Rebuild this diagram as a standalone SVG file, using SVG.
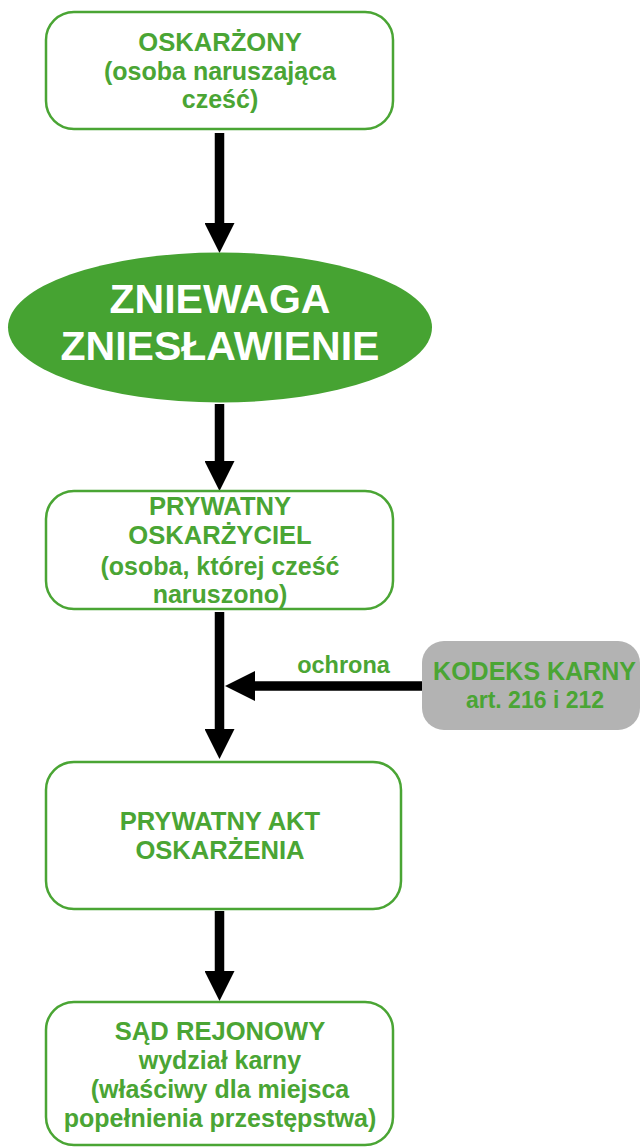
<svg xmlns="http://www.w3.org/2000/svg" width="641" height="1147" viewBox="0 0 641 1147">
<defs>
<style>
.box{fill:#ffffff;stroke:#4aa534;stroke-width:2.5}
.t{font-family:"Liberation Sans",Arial,sans-serif;font-weight:bold;fill:#4aa534;text-anchor:middle}
.h{font-size:25.6px}
.s{font-size:25px}
.w{font-family:"Liberation Sans",Arial,sans-serif;font-weight:bold;fill:#ffffff;text-anchor:middle;font-size:41px}
.c{stroke:#000000;stroke-width:9.5;fill:none}
</style>
<marker id="ah" viewBox="0 0 30 30" refX="0" refY="15" markerWidth="30" markerHeight="30" markerUnits="userSpaceOnUse" orient="auto">
<path d="M0,0 L30,15 L0,30 z" fill="#000000"/>
</marker>
</defs>
<rect width="641" height="1147" fill="#ffffff"/>
<g id="connectors">
<line class="c" x1="219.5" y1="133" x2="219.5" y2="223" marker-end="url(#ah)"/>
<line class="c" x1="219.5" y1="404" x2="219.5" y2="461" marker-end="url(#ah)"/>
<line class="c" x1="219.5" y1="612" x2="219.5" y2="729" marker-end="url(#ah)"/>
<line class="c" x1="422" y1="686" x2="255" y2="686" stroke-width="10" marker-end="url(#ah)"/>
<line class="c" x1="219.5" y1="911" x2="219.5" y2="971" marker-end="url(#ah)"/>
<text class="t" x="343.5" y="673" font-size="23.5">ochrona</text>
</g>
<g id="oskarzony">
<rect class="box" x="46" y="12" width="347" height="117" rx="28"/>
<text class="t h" x="220" y="51">OSKARŻONY</text>
<text class="t s" x="220" y="80">(osoba naruszająca</text>
<text class="t s" x="220" y="108">cześć)</text>
</g>
<g id="zniewaga">
<ellipse cx="220" cy="327.5" rx="212" ry="75" fill="#46a332"/>
<text class="w" x="220" y="313">ZNIEWAGA</text>
<text class="w" x="220" y="360">ZNIESŁAWIENIE</text>
</g>
<g id="oskarzyciel">
<rect class="box" x="46" y="491" width="347" height="118" rx="28"/>
<text class="t h" x="220" y="515">PRYWATNY</text>
<text class="t h" x="220" y="544">OSKARŻYCIEL</text>
<text class="t s" x="220" y="575">(osoba, której cześć</text>
<text class="t s" x="220" y="603">naruszono)</text>
</g>
<g id="kodeks">
<rect x="422" y="641" width="218" height="89" rx="22" fill="#b3b3b3"/>
<text class="t" x="534.5" y="680" font-size="25">KODEKS KARNY</text>
<text class="t" x="535" y="708" font-size="23">art. 216 i 212</text>
</g>
<g id="akt">
<rect class="box" x="46" y="762" width="355" height="147" rx="28"/>
<text class="t h" x="220" y="830">PRYWATNY AKT</text>
<text class="t h" x="220" y="859">OSKARŻENIA</text>
</g>
<g id="sad">
<rect class="box" x="46" y="1002" width="347" height="143" rx="28"/>
<text class="t h" x="220" y="1040">SĄD REJONOWY</text>
<text class="t s" x="220" y="1069">wydział karny</text>
<text class="t s" x="220" y="1098">(właściwy dla miejsca</text>
<text class="t s" x="220" y="1127">popełnienia przestępstwa)</text>
</g>
</svg>
